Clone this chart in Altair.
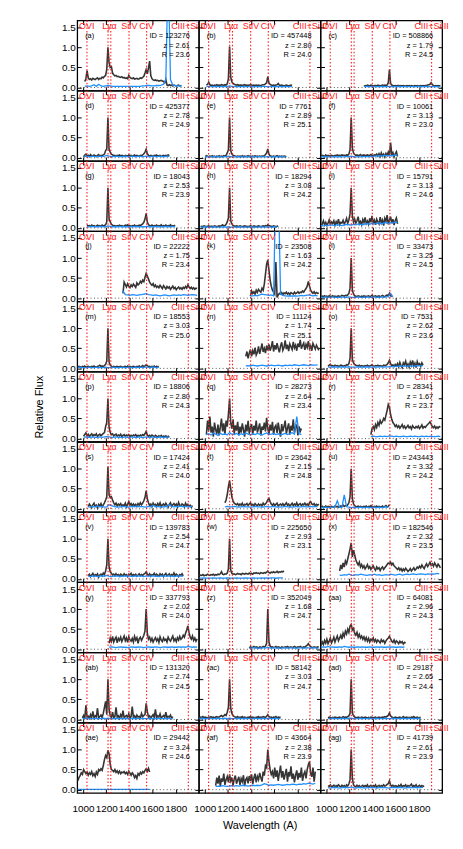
import altair as alt
import pandas as pd

# ---------------- panel metadata ----------------
TAGS = ["(a)", "(b)", "(c)", "(d)", "(e)", "(f)", "(g)", "(h)", "(i)", "(j)", "(k)",
        "(l)", "(m)", "(n)", "(o)", "(p)", "(q)", "(r)", "(s)", "(t)", "(u)", "(v)",
        "(w)", "(x)", "(y)", "(z)", "(aa)", "(ab)", "(ac)", "(ad)", "(ae)", "(af)", "(ag)"]
OBJ_IDS = ["123276", "457448", "508866", "425377", "7761", "10061", "18043", "18294", "15791",
           "22222", "23508", "33473", "18553", "11124", "7531", "18806", "28273", "28341",
           "17424", "23642", "243443", "139783", "225650", "182546", "337793", "352049",
           "64081", "131320", "58142", "29187", "29442", "43664", "41739"]
REDSHIFTS = ["2.61", "2.80", "1.79", "2.78", "2.89", "3.13", "2.53", "3.08", "3.13", "1.75", "1.63",
             "3.25", "3.03", "1.74", "2.62", "2.80", "2.64", "1.67", "2.41", "2.15", "3.32", "2.54",
             "2.93", "2.32", "2.02", "1.68", "2.96", "2.74", "3.03", "2.65", "3.24", "2.38", "2.61"]
R_MAGS = ["23.6", "24.0", "24.5", "24.9", "25.1", "23.0", "23.9", "24.2", "24.6", "23.4", "24.2",
          "24.5", "25.0", "25.1", "23.6", "24.3", "23.4", "23.7", "24.0", "24.8", "24.2", "24.7",
          "23.1", "23.5", "24.0", "24.7", "24.3", "24.5", "24.7", "24.4", "24.6", "23.9", "23.9"]
# first rest wavelength (A) of each spectrum
STARTS = [1015, 1015, 1325, 1005, 1005, 955, 1035, 965, 955, 1345, 1395,
          955, 955, 1355, 1015, 1005, 1015, 1385, 1045, 1175, 955, 1045,
          955, 1115, 1225, 1385, 955, 995, 955, 1015, 955, 1095, 1015]
FLUX_STEP = 10
ERR_STEP = 20

LINE_WAVES = [1034, 1216, 1240, 1397, 1549, 1909]
LABEL_TEXT = ["OVI", "Lyα", "SiIV", "CIV", "CIII+SiIII"]
LABEL_WAVES = [1032, 1228, 1400, 1549, 1909]
X_TICKS = [1000, 1200, 1400, 1600, 1800]
Y_TICKS = [0.0, 0.5, 1.0, 1.5]

# ---------------- spectra (relative flux) ----------------
FLUX_A = [0.15, 0.22, 0.42, 0.24, 0.20, 0.22, 0.19, 0.23, 0.21, 0.20,
          0.22, 0.24, 0.20, 0.23, 0.22, 0.26, 0.24, 0.28, 0.30, 0.45,
          1.00, 0.62, 0.50, 0.52, 0.36, 0.32, 0.29, 0.30, 0.27, 0.28,
          0.26, 0.25, 0.27, 0.24, 0.25, 0.23, 0.24, 0.22, 0.30, 0.25,
          0.23, 0.22, 0.24, 0.21, 0.22, 0.23, 0.21, 0.22, 0.24, 0.23,
          0.25, 0.28, 0.36, 0.45, 0.34, 0.48, 0.66, 0.30, 0.22, 0.19,
          0.18, 0.19, 0.17, 0.18, 0.16, 0.17, 0.18, 0.16, 0.15, 0.12,
          0.20, 0.06, 0.05, 0.07, 0.05, 0.06, 0.04, 0.06, 0.05, 0.04,
          0.05, 0.06, 0.04, 0.05]
ERR_A = [0.03, 0.04, 0.03, 0.04, 0.07, 0.03, 0.08, 0.04, 0.03, 0.04,
         0.05, 0.04, 0.03, 0.03, 0.03, 0.03, 0.03, 0.03, 0.03, 0.03,
         0.03, 0.03, 0.03, 0.03, 0.03, 0.04, 0.04, 0.05, 0.05, 0.04,
         0.04, 0.05, 0.05, 0.06, 0.08, 0.20, 3.00, 0.20, 0.06, 0.05,
         0.04, 0.04, 0.04]

FLUX_B = [0.06, 0.08, 0.13, 0.07, 0.05, 0.06, 0.04, 0.06, 0.05, 0.07,
          0.05, 0.06, 0.05, 0.07, 0.06, 0.05, 0.07, 0.06, 0.09, 0.22,
          1.02, 0.26, 0.14, 0.10, 0.08, 0.07, 0.06, 0.07, 0.05, 0.06,
          0.06, 0.05, 0.06, 0.07, 0.05, 0.06, 0.05, 0.06, 0.07, 0.06,
          0.05, 0.06, 0.05, 0.06, 0.05, 0.06, 0.05, 0.05, 0.06, 0.07,
          0.07, 0.09, 0.12, 0.27, 0.11, 0.08, 0.06, 0.05, 0.06, 0.05,
          0.06, 0.07, 0.10, 0.06, 0.05, 0.06, 0.05, 0.04, 0.05, 0.06,
          0.05, 0.04, 0.05, 0.06, 0.05]
ERR_B = [0.03, 0.03, 0.02, 0.02, 0.03, 0.02, 0.02, 0.03, 0.02, 0.03,
         0.04, 0.03, 0.02, 0.02, 0.02, 0.02, 0.02, 0.02, 0.02, 0.02,
         0.02, 0.02, 0.02, 0.02, 0.03, 0.03, 0.02, 0.02, 0.02, 0.02,
         0.02, 0.03, 0.02, 0.02, 0.03, 0.02, 0.02, 0.03]

FLUX_C = [0.03, 0.05, 0.04, 0.06, 0.05, 0.04, 0.06, 0.05, 0.04, 0.05,
          0.05, 0.04, 0.06, 0.05, 0.04, 0.05, 0.06, 0.05, 0.06, 0.05,
          0.06, 0.12, 0.45, 0.10, 0.06, 0.05, 0.04, 0.05, 0.04, 0.05,
          0.05, 0.04, 0.05, 0.04, 0.05, 0.04, 0.04, 0.05, 0.04, 0.05,
          0.04, 0.05, 0.04, 0.04, 0.05, 0.04, 0.05, 0.04, 0.04, 0.05,
          0.04, 0.05, 0.04, 0.05, 0.05, 0.06, 0.07, 0.08, 0.12, 0.07,
          0.05, 0.04, 0.05, 0.04, 0.05, 0.04, 0.05]
ERR_C = [0.02, 0.03, 0.02, 0.02, 0.03, 0.02, 0.02, 0.02, 0.03, 0.02,
         0.02, 0.03, 0.02, 0.02, 0.02, 0.03, 0.02, 0.02, 0.02, 0.02,
         0.03, 0.02, 0.02, 0.03, 0.02, 0.02, 0.02, 0.03, 0.02, 0.02,
         0.03, 0.02, 0.02, 0.02]

FLUX_D = [0.02, 0.07, 0.09, 0.04, 0.06, 0.03, 0.08, 0.05, 0.04, 0.07,
          0.05, 0.03, 0.06, 0.08, 0.04, 0.06, 0.05, 0.07, 0.09, 0.18,
          0.22, 1.00, 0.20, 0.14, 0.09, 0.07, 0.05, 0.06, 0.04, 0.06,
          0.05, 0.07, 0.04, 0.06, 0.05, 0.03, 0.06, 0.05, 0.04, 0.07,
          0.05, 0.06, 0.04, 0.05, 0.07, 0.04, 0.06, 0.05, 0.04, 0.06,
          0.05, 0.07, 0.10, 0.14, 0.21, 0.10, 0.06, 0.04, 0.06, 0.05,
          0.04, 0.06, 0.05, 0.07, 0.04, 0.05, 0.06, 0.03, 0.05, 0.06,
          0.04, 0.06, 0.05, 0.07, 0.05]
ERR_D = [0.03, 0.04, 0.03, 0.03, 0.04, 0.03, 0.03, 0.04, 0.03, 0.04,
         0.06, 0.04, 0.03, 0.03, 0.04, 0.03, 0.03, 0.03, 0.04, 0.03,
         0.03, 0.04, 0.03, 0.03, 0.04, 0.03, 0.03, 0.04, 0.03, 0.03,
         0.04, 0.03, 0.03, 0.04, 0.03, 0.03, 0.04, 0.03]

FLUX_E = [0.03, 0.05, 0.04, 0.02, 0.04, 0.03, 0.05, 0.03, 0.04, 0.02,
          0.04, 0.03, 0.05, 0.03, 0.04, 0.03, 0.05, 0.04, 0.06, 0.12,
          0.20, 1.00, 0.18, 0.09, 0.06, 0.05, 0.04, 0.03, 0.04, 0.03,
          0.04, 0.03, 0.05, 0.03, 0.04, 0.03, 0.04, 0.05, 0.03, 0.04,
          0.03, 0.04, 0.03, 0.05, 0.03, 0.04, 0.03, 0.04, 0.03, 0.04,
          0.04, 0.05, 0.08, 0.12, 0.22, 0.09, 0.05, 0.04, 0.03, 0.04,
          0.03, 0.04, 0.05, 0.03, 0.04, 0.03, 0.04, 0.03, 0.04, 0.03,
          0.04]
ERR_E = [0.02, 0.03, 0.02, 0.02, 0.03, 0.02, 0.03, 0.02, 0.02, 0.03,
         0.04, 0.03, 0.02, 0.02, 0.03, 0.02, 0.02, 0.02, 0.03, 0.02,
         0.02, 0.03, 0.02, 0.03, 0.03, 0.02, 0.02, 0.03, 0.02, 0.02,
         0.03, 0.02, 0.02, 0.03, 0.02, 0.02]

FLUX_F = [0.04, 0.06, 0.05, 0.03, 0.07, 0.04, 0.06, 0.05, 0.04, 0.06,
          0.05, 0.04, 0.06, 0.05, 0.07, 0.05, 0.06, 0.05, 0.07, 0.06,
          0.06, 0.05, 0.07, 0.06, 0.09, 0.20, 1.00, 0.24, 0.12, 0.08,
          0.06, 0.07, 0.05, 0.06, 0.08, 0.05, 0.06, 0.07, 0.05, 0.06,
          0.07, 0.05, 0.06, 0.08, 0.06, 0.05, 0.07, 0.06, 0.09, 0.04,
          0.10, 0.03, 0.12, 0.05, 0.09, 0.02, 0.11, 0.06, 0.14, 0.04,
          0.38, 0.08, 0.13, 0.02, 0.10, 0.15, 0.03]
ERR_F = [0.02, 0.03, 0.02, 0.03, 0.02, 0.02, 0.03, 0.02, 0.03, 0.02,
         0.02, 0.03, 0.03, 0.04, 0.03, 0.02, 0.03, 0.02, 0.03, 0.03,
         0.03, 0.03, 0.03, 0.04, 0.04, 0.05, 0.04, 0.05, 0.06, 0.05,
         0.06, 0.05, 0.07, 0.06]

FLUX_G = [0.08, 0.05, 0.06, 0.04, 0.07, 0.05, 0.06, 0.04, 0.05, 0.07,
          0.05, 0.06, 0.04, 0.07, 0.05, 0.06, 0.08, 0.15, 1.00, 0.22,
          0.15, 0.09, 0.07, 0.05, 0.06, 0.04, 0.06, 0.05, 0.07, 0.05,
          0.06, 0.04, 0.05, 0.07, 0.06, 0.08, 0.05, 0.06, 0.04, 0.06,
          0.05, 0.07, 0.04, 0.06, 0.05, 0.07, 0.06, 0.08, 0.10, 0.14,
          0.22, 0.36, 0.15, 0.08, 0.06, 0.05, 0.07, 0.04, 0.06, 0.05,
          0.07, 0.04, 0.06, 0.05, 0.08, 0.04, 0.06, 0.05, 0.07, 0.04,
          0.06, 0.05, 0.08, 0.04, 0.06, 0.05, 0.07]
ERR_G = [0.03, 0.03, 0.04, 0.03, 0.03, 0.03, 0.04, 0.03, 0.03, 0.05,
         0.04, 0.03, 0.03, 0.03, 0.04, 0.03, 0.03, 0.03, 0.03, 0.03,
         0.03, 0.04, 0.03, 0.03, 0.03, 0.03, 0.04, 0.03, 0.03, 0.03,
         0.04, 0.03, 0.03, 0.03, 0.04, 0.03, 0.03, 0.04, 0.03]

FLUX_H = [0.03, 0.04, 0.03, 0.05, 0.04, 0.03, 0.04, 0.05, 0.03, 0.04,
          0.04, 0.03, 0.05, 0.04, 0.03, 0.04, 0.05, 0.04, 0.06, 0.08,
          0.05, 0.06, 0.09, 0.15, 0.25, 1.00, 0.18, 0.10, 0.06, 0.05,
          0.04, 0.05, 0.04, 0.03, 0.05, 0.04, 0.03, 0.04, 0.05, 0.04,
          0.04, 0.03, 0.04, 0.05, 0.04, 0.03, 0.05, 0.04, 0.03, 0.04,
          0.05, 0.04, 0.03, 0.04, 0.05, 0.04, 0.06, 0.05, 0.08, 0.06,
          0.05, 0.04, 0.03, 0.05, 0.04, 0.03, 0.04, 0.05]
ERR_H = [0.02, 0.02, 0.03, 0.02, 0.02, 0.02, 0.03, 0.02, 0.02, 0.02,
         0.03, 0.02, 0.03, 0.02, 0.02, 0.02, 0.02, 0.03, 0.02, 0.02,
         0.02, 0.02, 0.03, 0.02, 0.02, 0.02, 0.03, 0.02, 0.02, 0.03,
         0.02, 0.02, 0.03, 0.02]

FLUX_I = [0.05, 0.10, 0.18, 0.08, 0.14, 0.06, 0.12, 0.20, 0.09, 0.15,
          0.11, 0.18, 0.07, 0.16, 0.10, 0.22, 0.08, 0.14, 0.12, 0.19,
          0.10, 0.15, 0.24, 0.12, 0.20, 0.35, 1.00, 0.30, 0.14, 0.22,
          0.12, 0.18, 0.28, 0.10, 0.16, 0.08, 0.21, 0.13, 0.26, 0.11,
          0.17, 0.09, 0.24, 0.14, 0.30, 0.12, 0.19, 0.08, 0.22, 0.15,
          0.10, 0.27, 0.13, 0.20, 0.06, 0.24, 0.16, 0.32, 0.09, 0.19,
          0.28, 0.12, 0.22, 0.07, 0.18, 0.25, 0.10]
ERR_I = [0.06, 0.05, 0.07, 0.06, 0.08, 0.07, 0.06, 0.08, 0.07, 0.06,
         0.07, 0.09, 0.08, 0.07, 0.09, 0.08, 0.10, 0.09, 0.08, 0.10,
         0.11, 0.09, 0.12, 0.10, 0.11, 0.13, 0.10, 0.12, 0.14, 0.11,
         0.13, 0.12, 0.15, 0.13]

FLUX_J = [0.12, 0.40, 0.34, 0.28, 0.36, 0.30, 0.26, 0.33, 0.29, 0.35,
          0.31, 0.27, 0.38, 0.33, 0.36, 0.42, 0.38, 0.45, 0.41, 0.52,
          0.62, 0.55, 0.48, 0.40, 0.35, 0.32, 0.36, 0.29, 0.33, 0.27,
          0.30, 0.26, 0.32, 0.28, 0.24, 0.31, 0.27, 0.23, 0.29, 0.25,
          0.28, 0.22, 0.26, 0.30, 0.24, 0.27, 0.21, 0.25, 0.28, 0.23,
          0.26, 0.22, 0.27, 0.24, 0.29, 0.25, 0.33, 0.28, 0.24, 0.27,
          0.23, 0.26, 0.22, 0.25, 0.24]
ERR_J = [0.18, 0.09, 0.08, 0.07, 0.09, 0.08, 0.07, 0.08, 0.09, 0.10,
         0.11, 0.09, 0.08, 0.07, 0.08, 0.07, 0.06, 0.07, 0.08, 0.07,
         0.06, 0.07, 0.08, 0.07, 0.08, 0.07, 0.09, 0.08, 0.07, 0.08,
         0.09, 0.08, 0.07]

FLUX_K = [0.05, 0.18, 0.12, 0.16, 0.10, 0.20, 0.14, 0.22, 0.18, 0.15,
          0.25, 0.20, 0.35, 0.60, 0.85, 0.95, 0.70, 0.45, 0.30, 0.20,
          0.15, 0.10, 0.90, 0.02, 0.08, 0.12, 0.10, 0.14, 0.09, 0.13,
          0.11, 0.15, 0.10, 0.13, 0.09, 0.14, 0.12, 0.10, 0.15, 0.11,
          0.13, 0.16, 0.12, 0.15, 0.14, 0.18, 0.15, 0.20, 0.24, 0.30,
          0.42, 0.30, 0.20, 0.15, 0.12, 0.16, 0.11, 0.14, 0.12, 0.13]
ERR_K = [0.05, 0.06, 0.07, 0.06, 0.08, 0.10, 0.09, 0.08, 0.07, 0.08,
         0.06, 3.00, 3.00, 0.10, 0.07, 0.06, 0.05, 0.06, 0.05, 0.06,
         0.05, 0.06, 0.07, 0.06, 0.07, 0.08, 0.07, 0.06, 0.07, 0.06]

FLUX_L = [0.03, 0.05, 0.04, 0.06, 0.04, 0.05, 0.03, 0.06, 0.05, 0.04,
          0.06, 0.04, 0.05, 0.03, 0.05, 0.06, 0.04, 0.05, 0.07, 0.06,
          0.05, 0.07, 0.06, 0.08, 0.12, 0.25, 1.00, 0.20, 0.10, 0.06,
          0.05, 0.04, 0.06, 0.05, 0.03, 0.05, 0.04, 0.06, 0.05, 0.04,
          0.05, 0.06, 0.04, 0.05, 0.07, 0.04, 0.05, 0.06, 0.04, 0.05,
          0.06, 0.04, 0.05, 0.07, 0.05, 0.04, 0.06, 0.08, 0.05, 0.12,
          0.06, 0.04]
ERR_L = [0.02, 0.02, 0.03, 0.02, 0.02, 0.03, 0.02, 0.02, 0.02, 0.03,
         0.02, 0.02, 0.03, 0.02, 0.02, 0.02, 0.03, 0.02, 0.02, 0.02,
         0.03, 0.02, 0.02, 0.03, 0.02, 0.02, 0.03, 0.02, 0.03, 0.04,
         0.12, 0.03]

FLUX_M = [0.03, 0.05, 0.04, 0.02, 0.05, 0.04, 0.06, 0.03, 0.04, 0.05,
          0.04, 0.03, 0.05, 0.04, 0.06, 0.04, 0.03, 0.05, 0.06, 0.08,
          0.05, 0.06, 0.04, 0.07, 0.10, 0.18, 1.00, 0.16, 0.08, 0.05,
          0.04, 0.05, 0.03, 0.04, 0.05, 0.03, 0.04, 0.05, 0.04, 0.03,
          0.04, 0.05, 0.03, 0.06, 0.04, 0.05, 0.03, 0.04, 0.05, 0.04,
          0.03, 0.05, 0.04, 0.06, 0.04, 0.05, 0.07, 0.04, 0.06, 0.09,
          0.07, 0.04, 0.05, 0.03, 0.05, 0.04, 0.06, 0.03, 0.05, 0.04,
          0.05]
ERR_M = [0.02, 0.03, 0.02, 0.02, 0.02, 0.03, 0.02, 0.02, 0.03, 0.02,
         0.02, 0.02, 0.03, 0.02, 0.02, 0.03, 0.02, 0.02, 0.02, 0.03,
         0.02, 0.02, 0.03, 0.02, 0.02, 0.03, 0.02, 0.03, 0.02, 0.03,
         0.03, 0.02, 0.03, 0.03, 0.02, 0.03]

FLUX_N = [0.30, 0.42, 0.25, 0.38, 0.47, 0.30, 0.44, 0.35, 0.52, 0.33,
          0.40, 0.55, 0.36, 0.48, 0.62, 0.41, 0.50, 0.38, 0.57, 0.45,
          0.60, 0.44, 0.53, 0.68, 0.42, 0.58, 0.47, 0.63, 0.50, 0.40,
          0.56, 0.65, 0.45, 0.52, 0.70, 0.48, 0.59, 0.43, 0.61, 0.54,
          0.47, 0.66, 0.51, 0.58, 0.44, 0.62, 0.53, 0.71, 0.49, 0.57,
          0.63, 0.46, 0.60, 0.52, 0.68, 0.50, 0.56, 0.44, 0.62, 0.55,
          0.48, 0.58, 0.52, 0.45]
ERR_N = [0.06, 0.07, 0.06, 0.08, 0.07, 0.06, 0.07, 0.08, 0.07, 0.06,
         0.07, 0.08, 0.07, 0.07, 0.08, 0.07, 0.06, 0.08, 0.07, 0.08,
         0.07, 0.09, 0.08, 0.07, 0.08, 0.09, 0.08, 0.07, 0.09, 0.08,
         0.08, 0.09]

FLUX_O = [0.05, 0.08, 0.10, 0.06, 0.07, 0.05, 0.08, 0.06, 0.07, 0.05,
          0.06, 0.08, 0.07, 0.05, 0.07, 0.06, 0.09, 0.08, 0.12, 0.25,
          1.00, 0.22, 0.14, 0.10, 0.08, 0.07, 0.06, 0.08, 0.05, 0.07,
          0.06, 0.05, 0.07, 0.06, 0.08, 0.05, 0.06, 0.07, 0.09, 0.06,
          0.05, 0.07, 0.06, 0.08, 0.05, 0.07, 0.06, 0.05, 0.08, 0.07,
          0.08, 0.10, 0.14, 0.20, 0.12, 0.07, 0.09, 0.05, 0.10, 0.06,
          0.12, 0.04, 0.15, 0.07, 0.02, 0.14, 0.09, 0.18, 0.05, 0.11,
          0.03, 0.16, 0.08, 0.20, 0.06, 0.13, 0.02, 0.17, 0.09, 0.12,
          0.05, 0.14, 0.08]
ERR_O = [0.03, 0.03, 0.04, 0.03, 0.03, 0.03, 0.04, 0.03, 0.03, 0.04,
         0.03, 0.03, 0.03, 0.04, 0.03, 0.03, 0.03, 0.04, 0.03, 0.03,
         0.04, 0.03, 0.04, 0.04, 0.03, 0.04, 0.04, 0.05, 0.04, 0.05,
         0.05, 0.06, 0.05, 0.06, 0.05, 0.06, 0.06, 0.05, 0.07, 0.06,
         0.06, 0.07]

FLUX_P = [0.06, 0.10, 0.14, 0.07, 0.11, 0.05, 0.09, 0.12, 0.06, 0.10,
          0.08, 0.12, 0.05, 0.09, 0.11, 0.07, 0.10, 0.13, 0.15, 0.30,
          0.40, 1.00, 0.28, 0.15, 0.10, 0.12, 0.07, 0.09, 0.11, 0.06,
          0.09, 0.07, 0.11, 0.05, 0.08, 0.10, 0.06, 0.09, 0.07, 0.10,
          0.05, 0.08, 0.06, 0.09, 0.07, 0.10, 0.05, 0.08, 0.06, 0.09,
          0.07, 0.10, 0.08, 0.12, 0.18, 0.09, 0.06, 0.08, 0.05, 0.09,
          0.07, 0.04, 0.08, 0.06, 0.03, 0.07, 0.05, 0.08, 0.04, 0.06,
          0.05, 0.07, 0.03, 0.06, 0.04]
ERR_P = [0.03, 0.04, 0.03, 0.03, 0.04, 0.03, 0.03, 0.04, 0.03, 0.04,
         0.05, 0.04, 0.03, 0.03, 0.04, 0.03, 0.03, 0.03, 0.04, 0.03,
         0.03, 0.04, 0.03, 0.03, 0.04, 0.03, 0.03, 0.04, 0.03, 0.03,
         0.04, 0.03, 0.03, 0.04, 0.03, 0.03, 0.04, 0.03]

FLUX_Q = [0.10, 0.45, 0.20, 0.55, 0.15, 0.30, 0.05, 0.40, 0.22, 0.12,
          0.35, 0.08, 0.28, 0.50, 0.18, 0.38, 0.10, 0.45, 0.30, 0.60,
          1.00, 0.40, 0.25, 0.48, 0.12, 0.33, 0.20, 0.42, 0.08, 0.30,
          0.15, 0.38, 0.22, 0.05, 0.35, 0.18, 0.44, 0.12, 0.28, 0.36,
          0.10, 0.32, 0.20, 0.45, 0.15, 0.26, 0.38, 0.08, 0.30, 0.22,
          0.40, 0.18, 0.52, 0.25, 0.12, 0.35, 0.20, 0.42, 0.10, 0.28,
          0.33, 0.14, 0.40, 0.22, 0.05, 0.36, 0.18, 0.30, 0.45, 0.12,
          0.26, 0.38, 0.10, 0.32, 0.20, 0.48, 0.15, 0.28, 0.35, 0.08,
          0.30, 0.18, 0.25]
ERR_Q = [0.10, 0.12, 0.09, 0.14, 0.11, 0.08, 0.13, 0.10, 0.12, 0.09,
         0.15, 0.11, 0.10, 0.13, 0.09, 0.12, 0.10, 0.14, 0.11, 0.09,
         0.12, 0.10, 0.13, 0.11, 0.09, 0.12, 0.14, 0.10, 0.11, 0.13,
         0.10, 0.12, 0.09, 0.11, 0.13, 0.10, 0.12, 0.15, 0.11, 0.55,
         0.12, 0.10]

FLUX_R = [0.10, 0.25, 0.30, 0.22, 0.35, 0.28, 0.40, 0.33, 0.45, 0.38,
          0.42, 0.50, 0.46, 0.58, 0.70, 0.85, 0.78, 0.60, 0.48, 0.40,
          0.36, 0.30, 0.34, 0.28, 0.32, 0.26, 0.30, 0.35, 0.27, 0.31,
          0.25, 0.29, 0.33, 0.27, 0.30, 0.24, 0.32, 0.28, 0.26, 0.30,
          0.27, 0.31, 0.25, 0.29, 0.34, 0.26, 0.30, 0.28, 0.32, 0.35,
          0.38, 0.42, 0.36, 0.30, 0.27, 0.31, 0.25, 0.29, 0.26, 0.30,
          0.28]
ERR_R = [0.05, 0.06, 0.05, 0.05, 0.06, 0.05, 0.06, 0.05, 0.07, 0.06,
         0.05, 0.06, 0.05, 0.05, 0.06, 0.05, 0.05, 0.06, 0.05, 0.06,
         0.05, 0.05, 0.06, 0.05, 0.06, 0.05, 0.06, 0.05, 0.05, 0.06,
         0.05]

FLUX_S = [0.05, 0.12, 0.08, 0.03, 0.10, 0.14, 0.06, 0.09, 0.02, 0.11,
          0.07, 0.13, 0.05, 0.10, 0.15, 0.22, 0.30, 1.05, 0.35, 0.28,
          0.30, 0.22, 0.15, 0.10, 0.14, 0.07, 0.12, 0.09, 0.13, 0.06,
          0.10, 0.08, 0.14, 0.05, 0.11, 0.18, 0.09, 0.13, 0.07, 0.12,
          0.08, 0.11, 0.06, 0.13, 0.09, 0.15, 0.10, 0.14, 0.20, 0.28,
          0.45, 0.25, 0.15, 0.08, 0.12, 0.05, 0.14, 0.09, 0.11, 0.06,
          0.13, 0.08, 0.15, 0.05, 0.10, 0.12, 0.07, 0.14, 0.09, 0.04,
          0.11, 0.15, 0.06, 0.10, 0.13, 0.08, 0.12, 0.05, 0.16, 0.09,
          0.07, 0.12, 0.10, 0.05, 0.14, 0.08, 0.11, 0.06, 0.09, 0.04,
          0.08]
ERR_S = [0.05, 0.04, 0.06, 0.05, 0.07, 0.05, 0.06, 0.04, 0.05, 0.10,
         0.08, 0.06, 0.05, 0.04, 0.05, 0.06, 0.05, 0.04, 0.05, 0.06,
         0.05, 0.07, 0.05, 0.06, 0.05, 0.04, 0.06, 0.05, 0.09, 0.05,
         0.06, 0.05, 0.04, 0.06, 0.05, 0.10, 0.06, 0.05, 0.06, 0.05,
         0.07, 0.05, 0.06, 0.05, 0.06, 0.05]

FLUX_T = [0.15, 0.22, 0.35, 0.55, 0.70, 0.50, 0.30, 0.20, 0.14, 0.12,
          0.10, 0.13, 0.08, 0.12, 0.09, 0.14, 0.07, 0.11, 0.10, 0.13,
          0.08, 0.12, 0.15, 0.09, 0.11, 0.07, 0.13, 0.10, 0.08, 0.12,
          0.09, 0.11, 0.07, 0.14, 0.10, 0.12, 0.16, 0.22, 0.26, 0.18,
          0.12, 0.09, 0.13, 0.08, 0.11, 0.14, 0.07, 0.10, 0.12, 0.09,
          0.13, 0.08, 0.11, 0.15, 0.09, 0.12, 0.06, 0.10, 0.14, 0.08,
          0.12, 0.09, 0.15, 0.07, 0.11, 0.13, 0.08, 0.12, 0.10, 0.14,
          0.09, 0.12, 0.08, 0.15, 0.18, 0.12, 0.10, 0.13, 0.07, 0.11,
          0.09, 0.12]
ERR_T = [0.05, 0.06, 0.05, 0.05, 0.06, 0.05, 0.04, 0.05, 0.06, 0.05,
         0.05, 0.04, 0.05, 0.06, 0.05, 0.05, 0.04, 0.05, 0.06, 0.05,
         0.05, 0.06, 0.05, 0.04, 0.05, 0.05, 0.06, 0.05, 0.05, 0.04,
         0.05, 0.06, 0.05, 0.05, 0.06, 0.05, 0.05, 0.06, 0.05, 0.06,
         0.05]

FLUX_U = [0.04, 0.06, 0.03, 0.05, 0.07, 0.04, 0.06, 0.05, 0.03, 0.06,
          0.05, 0.04, 0.07, 0.05, 0.06, 0.04, 0.05, 0.07, 0.06, 0.09,
          0.06, 0.08, 0.07, 0.10, 0.15, 0.30, 1.00, 0.25, 0.12, 0.08,
          0.06, 0.05, 0.07, 0.04, 0.06, 0.05, 0.04, 0.06, 0.05, 0.07,
          0.04, 0.06, 0.05, 0.08, 0.05, 0.04, 0.06, 0.05, 0.07, 0.04,
          0.06, 0.05, 0.04, 0.07, 0.05, 0.06, 0.08, 0.05, 0.06, 0.10]
ERR_U = [0.03, 0.03, 0.04, 0.03, 0.03, 0.04, 0.05, 0.20, 0.04, 0.03,
         0.35, 0.05, 0.04, 0.03, 0.04, 0.03, 0.03, 0.04, 0.03, 0.03,
         0.04, 0.03, 0.03, 0.04, 0.03, 0.04, 0.03, 0.04, 0.05, 0.04]

FLUX_V = [0.08, 0.12, 0.06, 0.10, 0.14, 0.07, 0.11, 0.09, 0.13, 0.05,
          0.10, 0.12, 0.08, 0.15, 0.11, 0.20, 0.35, 1.00, 0.30, 0.18,
          0.14, 0.10, 0.12, 0.08, 0.13, 0.09, 0.11, 0.07, 0.12, 0.10,
          0.08, 0.13, 0.09, 0.11, 0.06, 0.12, 0.10, 0.14, 0.08, 0.11,
          0.09, 0.12, 0.07, 0.10, 0.13, 0.08, 0.11, 0.09, 0.12, 0.14,
          0.18, 0.12, 0.09, 0.13, 0.07, 0.11, 0.10, 0.14, 0.08, 0.12,
          0.10, 0.07, 0.13, 0.09, 0.12, 0.06, 0.11, 0.14, 0.08, 0.10,
          0.13, 0.07, 0.11, 0.09, 0.15, 0.08, 0.12, 0.10, 0.06, 0.11,
          0.09, 0.13, 0.08]
ERR_V = [0.07, 0.06, 0.08, 0.07, 0.06, 0.07, 0.08, 0.07, 0.09, 0.07,
         0.06, 0.07, 0.08, 0.07, 0.06, 0.07, 0.07, 0.08, 0.07, 0.06,
         0.07, 0.08, 0.07, 0.07, 0.06, 0.08, 0.07, 0.07, 0.08, 0.07,
         0.06, 0.07, 0.08, 0.07, 0.07, 0.08, 0.07, 0.06, 0.07, 0.08,
         0.07, 0.07]

FLUX_W = [0.08, 0.10, 0.09, 0.11, 0.08, 0.10, 0.09, 0.12, 0.10, 0.09,
          0.11, 0.10, 0.12, 0.09, 0.11, 0.10, 0.12, 0.11, 0.13, 0.18,
          0.12, 0.11, 0.13, 0.12, 0.15, 0.25, 1.00, 0.22, 0.14, 0.12,
          0.13, 0.11, 0.12, 0.14, 0.12, 0.13, 0.11, 0.14, 0.13, 0.12,
          0.14, 0.13, 0.12, 0.15, 0.13, 0.14, 0.12, 0.15, 0.14, 0.16,
          0.14, 0.15, 0.13, 0.16, 0.15, 0.14, 0.16, 0.15, 0.17, 0.20,
          0.16, 0.15, 0.17, 0.16, 0.18, 0.16, 0.17, 0.19, 0.16, 0.18,
          0.17, 0.19, 0.18, 0.20]
ERR_W = [0.02, 0.02, 0.03, 0.02, 0.02, 0.02, 0.03, 0.02, 0.02, 0.03,
         0.02, 0.02, 0.03, 0.02, 0.02, 0.02, 0.03, 0.02, 0.02, 0.02,
         0.03, 0.02, 0.02, 0.03, 0.02, 0.02, 0.02, 0.03, 0.02, 0.03,
         0.02, 0.03, 0.03, 0.02, 0.03, 0.03, 0.03]

FLUX_X = [0.20, 0.35, 0.25, 0.40, 0.30, 0.45, 0.38, 0.50, 0.62, 0.75,
          0.90, 0.55, 0.72, 0.60, 0.48, 0.40, 0.35, 0.42, 0.30, 0.36,
          0.28, 0.33, 0.25, 0.30, 0.36, 0.27, 0.31, 0.24, 0.29, 0.33,
          0.26, 0.22, 0.30, 0.25, 0.28, 0.21, 0.27, 0.30, 0.24, 0.28,
          0.32, 0.36, 0.40, 0.38, 0.42, 0.35, 0.39, 0.33, 0.30, 0.27,
          0.24, 0.28, 0.22, 0.26, 0.20, 0.25, 0.21, 0.27, 0.23, 0.19,
          0.22, 0.26, 0.20, 0.24, 0.28, 0.22, 0.25, 0.30, 0.27, 0.32,
          0.28, 0.35, 0.30, 0.26, 0.33, 0.38, 0.31, 0.36, 0.42, 0.34,
          0.38, 0.32, 0.40, 0.35, 0.30, 0.37, 0.33, 0.28]
ERR_X = [0.10, 0.09, 0.11, 0.10, 0.12, 0.10, 0.09, 0.11, 0.10, 0.12,
         0.11, 0.10, 0.09, 0.11, 0.10, 0.12, 0.10, 0.11, 0.09, 0.10,
         0.11, 0.10, 0.12, 0.11, 0.10, 0.11, 0.12, 0.10, 0.11, 0.12,
         0.11, 0.12, 0.13, 0.11, 0.12, 0.13, 0.12, 0.11, 0.13, 0.12,
         0.13, 0.12, 0.14, 0.13]

FLUX_Y = [0.15, 0.28, 0.20, 0.32, 0.18, 0.25, 0.30, 0.16, 0.27, 0.22,
          0.30, 0.19, 0.26, 0.33, 0.21, 0.28, 0.17, 0.31, 0.24, 0.20,
          0.27, 0.18, 0.32, 0.23, 0.29, 0.15, 0.26, 0.30, 0.22, 0.28,
          0.35, 0.45, 1.00, 0.40, 0.25, 0.30, 0.20, 0.27, 0.18, 0.24,
          0.29, 0.21, 0.26, 0.17, 0.31, 0.23, 0.19, 0.28, 0.22, 0.25,
          0.18, 0.30, 0.24, 0.20, 0.27, 0.33, 0.21, 0.26, 0.19, 0.29,
          0.23, 0.32, 0.25, 0.28, 0.35, 0.30, 0.40, 0.48, 0.58, 0.42,
          0.30, 0.25, 0.33, 0.22, 0.28, 0.20, 0.26]
ERR_Y = [0.05, 0.06, 0.05, 0.04, 0.05, 0.06, 0.05, 0.05, 0.04, 0.05,
         0.06, 0.05, 0.05, 0.06, 0.05, 0.04, 0.05, 0.06, 0.05, 0.05,
         0.06, 0.05, 0.04, 0.05, 0.06, 0.05, 0.05, 0.06, 0.05, 0.05,
         0.06, 0.05, 0.06, 0.05, 0.07, 0.06, 0.05, 0.06, 0.05]

FLUX_Z = [0.03, 0.06, 0.04, 0.05, 0.07, 0.04, 0.06, 0.05, 0.03, 0.06,
          0.05, 0.04, 0.07, 0.05, 0.08, 0.15, 1.00, 0.18, 0.08, 0.05,
          0.06, 0.04, 0.05, 0.07, 0.04, 0.06, 0.05, 0.03, 0.06, 0.05,
          0.04, 0.06, 0.05, 0.07, 0.04, 0.05, 0.06, 0.04, 0.05, 0.07,
          0.05, 0.04, 0.06, 0.05, 0.07, 0.05, 0.04, 0.06, 0.05, 0.08,
          0.10, 0.14, 0.09, 0.06, 0.05, 0.04, 0.06, 0.05, 0.04, 0.06,
          0.05]
ERR_Z = [0.03, 0.03, 0.04, 0.03, 0.03, 0.03, 0.04, 0.03, 0.05, 0.03,
         0.03, 0.04, 0.03, 0.03, 0.03, 0.04, 0.03, 0.03, 0.04, 0.03,
         0.03, 0.03, 0.04, 0.03, 0.03, 0.04, 0.03, 0.03, 0.04, 0.03,
         0.03]

FLUX_AA = [0.10, 0.18, 0.12, 0.22, 0.15, 0.25, 0.14, 0.20, 0.28, 0.16,
           0.22, 0.30, 0.18, 0.26, 0.33, 0.21, 0.28, 0.35, 0.25, 0.40,
           0.32, 0.45, 0.38, 0.50, 0.42, 0.58, 0.62, 0.48, 0.52, 0.40,
           0.35, 0.42, 0.30, 0.37, 0.28, 0.33, 0.25, 0.31, 0.22, 0.29,
           0.20, 0.27, 0.18, 0.25, 0.22, 0.28, 0.19, 0.24, 0.17, 0.23,
           0.20, 0.16, 0.24, 0.19, 0.22, 0.15, 0.21, 0.25, 0.28, 0.32,
           0.26, 0.20, 0.17, 0.23, 0.15, 0.21, 0.18, 0.14, 0.20, 0.16,
           0.19, 0.13, 0.17, 0.15]
ERR_AA = [0.05, 0.06, 0.05, 0.07, 0.05, 0.06, 0.05, 0.05, 0.06, 0.05,
          0.07, 0.06, 0.05, 0.06, 0.05, 0.05, 0.06, 0.05, 0.06, 0.05,
          0.05, 0.06, 0.05, 0.05, 0.06, 0.05, 0.06, 0.05, 0.05, 0.06,
          0.05, 0.06, 0.05, 0.05, 0.06, 0.05, 0.06]

FLUX_AB = [0.04, 0.10, 0.02, 0.35, 0.06, 0.08, 0.03, 0.12, 0.05, 0.20,
           0.04, 0.09, 0.06, 0.28, 0.03, 0.07, 0.11, 0.05, 0.15, 0.30,
           0.45, 0.12, 1.00, 0.25, 0.08, 0.05, 0.18, 0.04, 0.07, 0.30,
           0.05, 0.09, 0.03, 0.12, 0.06, 0.22, 0.04, 0.08, 0.10, 0.05,
           0.14, 0.04, 0.07, 0.32, 0.05, 0.09, 0.03, 0.11, 0.06, 0.08,
           0.04, 0.15, 0.07, 0.10, 0.12, 0.40, 0.20, 0.06, 0.09, 0.03,
           0.08, 0.12, 0.05, 0.25, 0.04, 0.09, 0.06, 0.14, 0.03, 0.07,
           0.10, 0.05, 0.18, 0.04, 0.08, 0.06, 0.11, 0.03, 0.07]
ERR_AB = [0.02, 0.02, 0.03, 0.02, 0.02, 0.02, 0.03, 0.02, 0.02, 0.03,
          0.02, 0.03, 0.02, 0.02, 0.02, 0.03, 0.02, 0.02, 0.02, 0.03,
          0.02, 0.02, 0.03, 0.02, 0.02, 0.02, 0.03, 0.02, 0.02, 0.03,
          0.02, 0.02, 0.02, 0.03, 0.02, 0.02, 0.03, 0.02, 0.02, 0.02]

FLUX_AC = [0.04, 0.06, 0.05, 0.07, 0.04, 0.06, 0.05, 0.04, 0.06, 0.05,
           0.07, 0.05, 0.06, 0.04, 0.06, 0.07, 0.05, 0.06, 0.08, 0.10,
           0.07, 0.09, 0.12, 0.10, 0.18, 0.30, 1.00, 0.28, 0.15, 0.10,
           0.07, 0.06, 0.05, 0.07, 0.04, 0.06, 0.05, 0.07, 0.04, 0.06,
           0.05, 0.04, 0.06, 0.05, 0.07, 0.04, 0.06, 0.05, 0.04, 0.06,
           0.05, 0.07, 0.04, 0.06, 0.05, 0.07, 0.06, 0.05, 0.08, 0.12,
           0.07, 0.05, 0.06, 0.04, 0.06, 0.05, 0.07, 0.04, 0.06, 0.05,
           0.06]
ERR_AC = [0.02, 0.03, 0.02, 0.02, 0.03, 0.02, 0.02, 0.02, 0.03, 0.02,
          0.02, 0.03, 0.02, 0.03, 0.02, 0.02, 0.02, 0.03, 0.02, 0.02,
          0.03, 0.02, 0.02, 0.02, 0.03, 0.02, 0.02, 0.03, 0.02, 0.02,
          0.03, 0.02, 0.02, 0.03, 0.02, 0.02]

FLUX_AD = [0.04, 0.06, 0.05, 0.03, 0.05, 0.04, 0.06, 0.05, 0.04, 0.05,
           0.06, 0.04, 0.05, 0.07, 0.05, 0.06, 0.05, 0.07, 0.09, 0.15,
           1.00, 0.16, 0.09, 0.06, 0.05, 0.04, 0.06, 0.05, 0.04, 0.06,
           0.05, 0.04, 0.06, 0.05, 0.03, 0.05, 0.04, 0.06, 0.05, 0.04,
           0.05, 0.06, 0.04, 0.05, 0.06, 0.04, 0.05, 0.06, 0.05, 0.07,
           0.06, 0.08, 0.10, 0.16, 0.09, 0.06, 0.05, 0.04, 0.06, 0.05,
           0.04, 0.05, 0.06, 0.04, 0.05, 0.07, 0.04, 0.05, 0.06, 0.04,
           0.05, 0.04, 0.06, 0.05, 0.07, 0.04, 0.05, 0.06, 0.04, 0.05,
           0.05]
ERR_AD = [0.02, 0.02, 0.03, 0.02, 0.02, 0.02, 0.03, 0.02, 0.02, 0.03,
          0.03, 0.02, 0.02, 0.02, 0.03, 0.02, 0.02, 0.02, 0.03, 0.02,
          0.02, 0.03, 0.02, 0.02, 0.02, 0.03, 0.02, 0.02, 0.03, 0.02,
          0.02, 0.02, 0.03, 0.02, 0.02, 0.03, 0.02, 0.02, 0.02, 0.03,
          0.02]

FLUX_AE = [0.22, 0.30, 0.35, 0.42, 0.38, 0.50, 0.45, 0.40, 0.44, 0.36,
           0.42, 0.38, 0.45, 0.35, 0.40, 0.33, 0.44, 0.38, 0.50, 0.47,
           0.52, 0.48, 0.60, 0.75, 0.85, 0.80, 0.98, 0.90, 0.62, 0.50,
           0.48, 0.45, 0.50, 0.43, 0.47, 0.41, 0.46, 0.40, 0.44, 0.42,
           0.45, 0.40, 0.43, 0.38, 0.46, 0.41, 0.36, 0.42, 0.38, 0.30,
           0.35, 0.28, 0.40, 0.36, 0.43, 0.39, 0.45, 0.42, 0.48, 0.52,
           0.46, 0.53, 0.44]
ERR_AE = [0.01, 0.01, 0.01, 0.01, 0.01, 0.01, 0.01, 0.01, 0.01, 0.01,
          0.01, 0.01, 0.01, 0.01, 0.01, 0.01, 0.01, 0.01, 0.01, 0.01,
          0.01, 0.01, 0.01, 0.01, 0.01, 0.01, 0.01, 0.01, 0.01, 0.01,
          0.01, 0.01]

FLUX_AF = [0.10, 0.30, 0.15, 0.35, 0.08, 0.28, 0.20, 0.40, 0.12, 0.25,
           0.33, 0.18, 0.38, 0.22, 0.30, 0.10, 0.27, 0.35, 0.15, 0.24,
           0.32, 0.12, 0.28, 0.20, 0.36, 0.09, 0.25, 0.30, 0.16, 0.34,
           0.22, 0.38, 0.14, 0.29, 0.40, 0.18, 0.33, 0.25, 0.42, 0.30,
           0.20, 0.45, 0.35, 0.60, 0.55, 1.00, 0.70, 0.50, 0.38, 0.45,
           0.28, 0.55, 0.32, 0.48, 0.22, 0.42, 0.60, 0.30, 0.46, 0.25,
           0.38, 0.52, 0.20, 0.44, 0.33, 0.58, 0.27, 0.40, 0.18, 0.36,
           0.48, 0.25, 0.42, 0.30, 0.55, 0.22, 0.38, 0.45, 0.28, 0.50,
           0.62, 0.70, 0.40, 0.32, 0.55, 0.20, 0.45]
ERR_AF = [0.08, 0.09, 0.08, 0.10, 0.09, 0.08, 0.09, 0.10, 0.09, 0.10,
          0.09, 0.10, 0.11, 0.10, 0.09, 0.10, 0.11, 0.10, 0.11, 0.10,
          0.12, 0.15, 0.13, 0.11, 0.12, 0.11, 0.12, 0.13, 0.12, 0.11,
          0.12, 0.13, 0.12, 0.14, 0.13, 0.12, 0.14, 0.13, 0.15, 0.14,
          0.16, 0.15, 0.14, 0.16]

FLUX_AG = [0.10, 0.08, 0.12, 0.07, 0.09, 0.11, 0.06, 0.10, 0.08, 0.12,
           0.09, 0.07, 0.11, 0.08, 0.10, 0.06, 0.12, 0.09, 0.14, 0.25,
           1.00, 0.28, 0.12, 0.09, 0.07, 0.11, 0.08, 0.10, 0.06, 0.09,
           0.11, 0.07, 0.10, 0.08, 0.12, 0.06, 0.09, 0.11, 0.07, 0.10,
           0.08, 0.12, 0.06, 0.09, 0.11, 0.07, 0.10, 0.08, 0.12, 0.09,
           0.10, 0.13, 0.15, 0.22, 0.12, 0.08, 0.11, 0.07, 0.10, 0.09,
           0.06, 0.11, 0.08, 0.13, 0.07, 0.10, 0.09, 0.12, 0.06, 0.10,
           0.08, 0.11, 0.14, 0.07, 0.10, 0.08, 0.12, 0.06, 0.09, 0.11,
           0.07, 0.10, 0.08, 0.09]
ERR_AG = [0.05, 0.04, 0.05, 0.06, 0.05, 0.04, 0.05, 0.06, 0.05, 0.05,
          0.07, 0.05, 0.04, 0.05, 0.06, 0.05, 0.04, 0.05, 0.05, 0.06,
          0.05, 0.04, 0.05, 0.06, 0.05, 0.05, 0.04, 0.05, 0.06, 0.05,
          0.05, 0.06, 0.05, 0.04, 0.05, 0.06, 0.05, 0.05, 0.06, 0.05,
          0.05, 0.06]

FLUXES = [FLUX_A, FLUX_B, FLUX_C, FLUX_D, FLUX_E, FLUX_F, FLUX_G, FLUX_H, FLUX_I, FLUX_J,
          FLUX_K, FLUX_L, FLUX_M, FLUX_N, FLUX_O, FLUX_P, FLUX_Q, FLUX_R, FLUX_S, FLUX_T,
          FLUX_U, FLUX_V, FLUX_W, FLUX_X, FLUX_Y, FLUX_Z, FLUX_AA, FLUX_AB, FLUX_AC, FLUX_AD,
          FLUX_AE, FLUX_AF, FLUX_AG]
ERRS = [ERR_A, ERR_B, ERR_C, ERR_D, ERR_E, ERR_F, ERR_G, ERR_H, ERR_I, ERR_J,
        ERR_K, ERR_L, ERR_M, ERR_N, ERR_O, ERR_P, ERR_Q, ERR_R, ERR_S, ERR_T,
        ERR_U, ERR_V, ERR_W, ERR_X, ERR_Y, ERR_Z, ERR_AA, ERR_AB, ERR_AC, ERR_AD,
        ERR_AE, ERR_AF, ERR_AG]

# ---------------- layout / style ----------------
W, H = 123, 71
XDOM = [950, 2000]
YDOM = [-0.08, 1.67]
FONT = "Liberation Sans"
GRAY = "#353535"
BLUE = "#1e8fff"
RED = "#ff1a1a"
NCOLS, NROWS = 3, 11


def make_panel(i):
    row, col = divmod(i, NCOLS)
    s = STARTS[i]
    flux, err = FLUXES[i], ERRS[i]
    sdf = pd.DataFrame({"w": [s + FLUX_STEP * k for k in range(len(flux))], "f": flux})
    edf = pd.DataFrame({"w": [s + ERR_STEP * k for k in range(len(err))], "f": err})
    xs = alt.Scale(domain=XDOM, nice=False, zero=False)
    ys = alt.Scale(domain=YDOM, nice=False, zero=False)

    left_kw = dict(orient="left", values=Y_TICKS, format=".1f", labels=(col == 0),
                   tickSize=4, offset=-4, domain=False, grid=False, labelPadding=2,
                   labelFontSize=10, tickColor="black", labelColor="black",
                   title=None)
    if i == 15:
        left_kw.update(title="Relative Flux", titleFontSize=11, titleFontWeight="normal",
                       titlePadding=17, titleColor="black", titleFont=FONT)
    bottom_kw = dict(orient="bottom", values=X_TICKS, format="d", labels=(row == NROWS - 1),
                     tickSize=4, offset=-4, domain=False, grid=False, labelPadding=11,
                     labelFontSize=10, tickColor="black", labelColor="black",
                     labelFlush=False, labelOverlap=False, title=None)
    if i == 31:
        bottom_kw.update(title="Wavelength (A)", titleFontSize=11, titleFontWeight="normal",
                         titlePadding=6, titleColor="black", titleFont=FONT)
    top_kw = dict(orient="top", values=X_TICKS, labels=False, tickSize=4, offset=-4,
                  domain=False, grid=False, tickColor="black", title=None)
    right_kw = dict(orient="right", values=Y_TICKS, labels=False, tickSize=4, offset=-4,
                    domain=False, grid=False, tickColor="black", title=None)

    spec = alt.Chart(sdf).mark_line(color=GRAY, strokeWidth=1.6, clip=True).encode(
        x=alt.X("w:Q", scale=xs, axis=alt.Axis(**bottom_kw)),
        y=alt.Y("f:Q", scale=ys, axis=alt.Axis(**left_kw)),
    )
    errl = alt.Chart(edf).mark_line(color=BLUE, strokeWidth=1.3, clip=True).encode(
        x=alt.X("w:Q", scale=xs, axis=alt.Axis(**top_kw)),
        y=alt.Y("f:Q", scale=ys, axis=alt.Axis(**right_kw)),
    )
    rules = alt.Chart(pd.DataFrame({"w": LINE_WAVES})).mark_rule(
        color=RED, strokeDash=[1.5, 2], strokeWidth=1.1
    ).encode(x=alt.X("w:Q", scale=xs, axis=None))
    zero = alt.Chart(pd.DataFrame({"z": [0.0]})).mark_rule(
        color="#444444", strokeDash=[1, 2.5], strokeWidth=0.9
    ).encode(y=alt.Y("z:Q", scale=ys, axis=None))
    labels = alt.Chart(pd.DataFrame({"w": LABEL_WAVES, "t": LABEL_TEXT})).mark_text(
        color=RED, baseline="top", align="center", fontSize=9, font=FONT
    ).encode(x=alt.X("w:Q", scale=xs, axis=None), y=alt.value(1.5), text="t:N")
    tag = alt.Chart(pd.DataFrame({"t": [TAGS[i]]})).mark_text(
        align="left", baseline="middle", fontSize=7.5, font=FONT, color="black"
    ).encode(x=alt.value(8), y=alt.value(15.5), text="t:N")
    info_txt = "ID = " + OBJ_IDS[i] + "\nz = " + REDSHIFTS[i] + "\nR = " + R_MAGS[i]
    info = alt.Chart(pd.DataFrame({"t": [info_txt]})).mark_text(
        align="right", baseline="alphabetic", fontSize=7.5, font=FONT, color="black",
        lineBreak="\n", lineHeight=9.3
    ).encode(x=alt.value(W - 9), y=alt.value(18), text="t:N")

    return alt.layer(spec, errl, rules, zero, labels, tag, info).resolve_axis(
        x="independent", y="independent"
    ).properties(width=W, height=H)


panels = [make_panel(i) for i in range(len(TAGS))]

chart = alt.concat(*panels, columns=NCOLS, spacing=0, bounds="flush").properties(
    padding={"left": 25, "top": 6, "right": 5, "bottom": 5}
).configure(font=FONT).configure_view(stroke="black", strokeWidth=1.3)

chart.save("out.html", embed_options={"renderer": "svg", "actions": False})
